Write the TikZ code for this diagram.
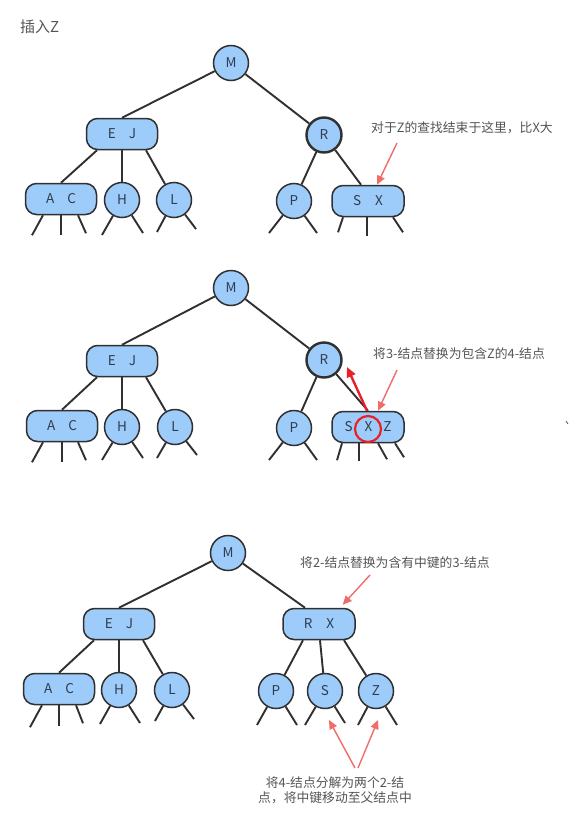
\documentclass[tikz,border=0pt]{standalone}
\usepackage{fontspec}
\setmainfont{Noto Sans CJK SC}
\usetikzlibrary{arrows.meta}
\definecolor{nodefill}{HTML}{9DCBFA}
\definecolor{edgec}{HTML}{303030}
\definecolor{lettc}{HTML}{2E3D4F}
\definecolor{notec}{HTML}{555555}
\definecolor{pinkc}{HTML}{F26B6B}
\definecolor{redc}{HTML}{E8202A}
\tikzset{
  tnode/.style={circle, draw=edgec, fill=nodefill, line width=1.5pt, minimum size=35pt, inner sep=0pt, text=lettc, font=\fontsize{13.5}{13.5}\selectfont},
  tthick/.style={tnode, line width=2.4pt},
  tbox/.style={rectangle, rounded corners=11pt, draw=edgec, fill=nodefill, line width=1.5pt, minimum width=71pt, minimum height=31pt, inner sep=0pt, text=lettc, font=\fontsize{13.5}{13.5}\selectfont},
  edge/.style={draw=edgec, line width=1.9pt},
  note/.style={text=notec, font=\fontsize{12.8}{15}\selectfont, inner sep=0pt},
  pinkarrow/.style={draw=pinkc, line width=1.4pt, -{Triangle[length=9pt,width=8pt]}},
  redarrow/.style={draw=redc, line width=2.4pt, -{Triangle[length=10pt,width=9pt]}}
}
\begin{document}
\begin{tikzpicture}[x=1pt,y=-1pt]
\useasboundingbox (0,0) rectangle (581,819);
\fill[white] (0,0) rectangle (581,819);

% ---------------- title
\node[note, anchor=west, font=\fontsize{15}{15}\selectfont] (title) at (20,27) {插入Z};

% ================= Panel 1
\node[tnode] (M1) at (231,63) {M};
\node[tbox] (EJ1) at (122,134) {E\hspace{13pt}J};
\node[tbox] (AC1) at (61,199) {A\hspace{13pt}C};
\node[tnode] (H1) at (122,200) {H};
\node[tnode] (L1) at (174,200) {L};
\node[tthick] (R1) at (324,135) {R};
\node[tnode] (P1) at (294,201) {P};
\node[tbox, minimum width=72pt] (SX1) at (368,201) {S\hspace{14pt}X};

\draw[edge] (M1) -- (EJ1.north);
\draw[edge] ([xshift=-25pt]EJ1.south) -- (AC1.north);
\draw[edge] (EJ1.south) -- (H1);
\draw[edge] ([xshift=24pt]EJ1.south) -- (L1);
\draw[edge] (M1) -- (R1);
\draw[edge] (R1) -- (P1);
\draw[edge] (R1) -- ([xshift=-7pt]SX1.north);

\draw[edge] ([xshift=-18pt]AC1.south) -- ++(-11,20);
\draw[edge] (AC1.south) -- ++(0,20);
\draw[edge] ([xshift=17pt]AC1.south) -- ++(8,18);
\draw[edge] (H1) -- ++(-20,35);
\draw[edge] (H1) -- ++(21,33);
\draw[edge] (L1) -- ++(-17,32);
\draw[edge] (L1) -- ++(22,29);
\draw[edge] (P1) -- ++(-25,32);
\draw[edge] (P1) -- ++(23,32);
\draw[edge] ([xshift=-25pt]SX1.south) -- ++(-5,15);
\draw[edge] ([xshift=-1pt]SX1.south) -- ++(0,19);
\draw[edge] ([xshift=25pt]SX1.south) -- ++(10,15);

\node[note, anchor=west] (n1) at (371,128) {对于Z的查找结束于这里，比X大};
\coordinate (a1s) at (397,143);
\draw[pinkarrow] (a1s) -- ([xshift=9pt]SX1.north);

% ================= Panel 2
\node[tnode] (M2) at (231,288) {M};
\node[tbox] (EJ2) at (122,361) {E\hspace{13pt}J};
\node[tbox] (AC2) at (62,426) {A\hspace{13pt}C};
\node[tnode] (H2) at (122,427) {H};
\node[tnode] (L2) at (175,427) {L};
\node[tthick] (R2) at (324,360) {R};
\node[tnode] (P2) at (294,428) {P};
\node[tbox, minimum width=72pt] (SXZ2) at (368,427) {S\hspace{12pt}X\hspace{11pt}Z};

\draw[edge] (M2) -- (EJ2.north);
\draw[edge] ([xshift=-25pt]EJ2.south) -- (AC2.north);
\draw[edge] (EJ2.south) -- (H2);
\draw[edge] ([xshift=24pt]EJ2.south) -- (L2);
\draw[edge] (M2) -- (R2);
\draw[edge] (R2) -- (P2);
\draw[edge] (R2) -- (SXZ2.north);

\draw[edge] ([xshift=-19pt]AC2.south) -- ++(-11,20);
\draw[edge] (AC2.south) -- ++(0,20);
\draw[edge] ([xshift=16pt]AC2.south) -- ++(8,18);
\draw[edge] (H2) -- ++(-20,33);
\draw[edge] (H2) -- ++(21,31);
\draw[edge] (L2) -- ++(-18,31);
\draw[edge] (L2) -- ++(22,28);
\draw[edge] (P2) -- ++(-25,32);
\draw[edge] (P2) -- ++(23,32);
\draw[edge] ([xshift=-26pt]SXZ2.south) -- ++(-5,17);
\draw[edge] ([xshift=-9pt]SXZ2.south) -- ++(0,18);
\draw[edge] ([xshift=10pt]SXZ2.south) -- ++(9,16);
\draw[edge] ([xshift=27pt]SXZ2.south) -- ++(9,14);

\node[draw=redc, circle, line width=2.2pt, minimum size=26pt, inner sep=0pt] (Xring) at (368,429) {};
\coordinate (tipR) at (347,367);
\draw[redarrow] ([xshift=-1pt]SXZ2.north) -- (tipR);

\node[note, anchor=west] (n2) at (373,354) {将3-结点替换为包含Z的4-结点};
\coordinate (a2s) at (397,370);
\draw[pinkarrow] (a2s) -- ([xshift=10pt]SXZ2.north);

\draw[notec, line width=0.8pt] (566,421) -- (568,424);

% ================= Panel 3
\node[tnode] (M3) at (228,553) {M};
\node[tbox] (EJ3) at (119,624) {E\hspace{13pt}J};
\node[tbox] (AC3) at (59,689) {A\hspace{13pt}C};
\node[tnode] (H3) at (119,690) {H};
\node[tnode] (L3) at (172,690) {L};
\node[tbox, minimum width=72pt] (RX3) at (319,624) {R\hspace{14pt}X};
\node[tnode] (P3) at (276,691) {P};
\node[tnode] (S3) at (325,691) {S};
\node[tnode] (Z3) at (376,691) {Z};

\draw[edge] (M3) -- (EJ3.north);
\draw[edge] ([xshift=-25pt]EJ3.south) -- (AC3.north);
\draw[edge] (EJ3.south) -- (H3);
\draw[edge] ([xshift=24pt]EJ3.south) -- (L3);
\draw[edge] (M3) -- ([xshift=-14pt]RX3.north);
\draw[edge] ([xshift=-16pt]RX3.south) -- (P3);
\draw[edge] ([xshift=1pt]RX3.south) -- (S3);
\draw[edge] ([xshift=25pt]RX3.south) -- (Z3);

\draw[edge] ([xshift=-17pt]AC3.south) -- ++(-12,22);
\draw[edge] (AC3.south) -- ++(0,21);
\draw[edge] ([xshift=17pt]AC3.south) -- ++(7,18);
\draw[edge] (H3) -- ++(-19,34);
\draw[edge] (H3) -- ++(21,33);
\draw[edge] (L3) -- ++(-17,31);
\draw[edge] (L3) -- ++(22,29);
\draw[edge] (P3) -- ++(-19,34);
\draw[edge] (P3) -- ++(21,34);
\draw[edge] (S3) -- ++(-20,34);
\draw[edge] (S3) -- ++(20,32);
\draw[edge] (Z3) -- ++(-18,34);
\draw[edge] (Z3) -- ++(21,34);

\node[note, anchor=west] (n3) at (300,563) {将2-结点替换为含有中键的3-结点};
\coordinate (a3s) at (370,575);
\draw[pinkarrow, shorten >=4pt] (a3s) -- ([xshift=21pt]RX3.north);

\node[note, align=center] (n4) at (335,790) {将4-结点分解为两个2-结\\点，将中键移动至父结点中};
\coordinate (a4s) at (355,768);
\coordinate (a5s) at (358,768);
\coordinate (a4e) at (329,720);
\coordinate (a5e) at (378,720);
\draw[pinkarrow] (a4s) -- (a4e);
\draw[pinkarrow] (a5s) -- (a5e);
\end{tikzpicture}
\end{document}
